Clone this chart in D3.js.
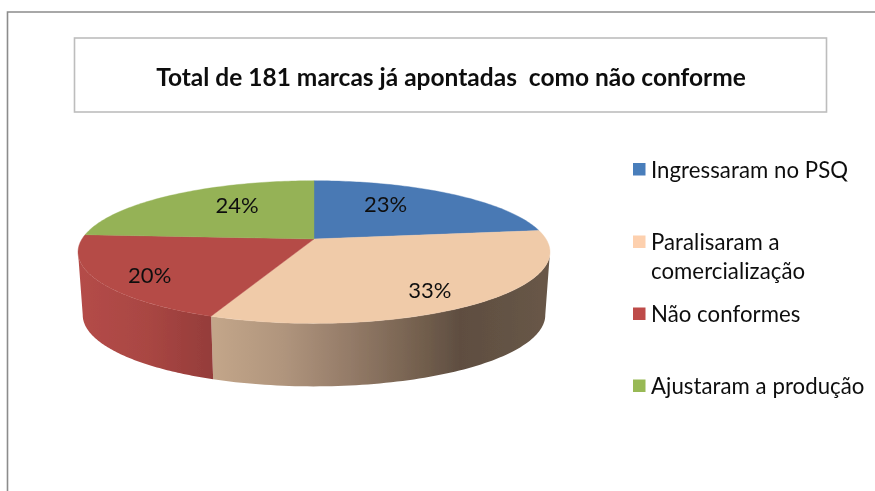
<!DOCTYPE html>
<html><head><meta charset="utf-8">
<script src="https://cdn.jsdelivr.net/npm/d3@7"></script>
<style>html,body{margin:0;padding:0;background:#fff}svg{display:block}text{font-family:Lato,"Open Sans",sans-serif;fill:#111}</style>
</head><body><svg id="c" width="875" height="491"></svg>
<script>
const categories = ["Ingressaram no PSQ","Paralisaram a|comercialização","Não conformes","Ajustaram a produção"];
const values = [23,33,20,24];
const colors = ["#4a79b4","#f0cba9","#b54b47","#95b257"];
const legendSwatch = ["#4a7ebb","#fdd0ae","#be4b48","#98b954"];
const title = "Total de 181 marcas já apontadas  como não conforme";

const svg = d3.select("#c");
const defs = svg.append("defs");
defs.append("filter").attr("id","soft").append("feGaussianBlur").attr("stdDeviation",0.45);
const g = svg.append("g").attr("filter","url(#soft)");

// frame
g.append("path").attr("d","M7.5,491V12H875").attr("fill","none").attr("stroke","#8c8c8c").attr("stroke-width",1.6);
g.append("rect").attr("x",74.5).attr("y",38).attr("width",752).attr("height",74).attr("fill","#fff").attr("stroke","#bdbdbd").attr("stroke-width",1.6);
g.append("text").attr("x",451).attr("y",86).attr("text-anchor","middle").attr("font-weight",700).attr("font-size",24.5).attr("xml:space","preserve").style("white-space","pre").text(title);

// perspective projection of the unit disc
const cx=314, rx=232, apexY=239, ka=25.2, kc=-0.183, depth=63, shrink=0.98;
function proj(theta,r=1){
  const u=r*Math.sin(theta), v=-r*Math.cos(theta), d=1+kc*v;
  return [cx+rx*u/d,(ka*v+apexY)/d];
}
function projBottom(theta){
  const [x,y]=proj(theta);
  return [cx+(x-cx)*shrink,y+depth];
}
const pie=d3.pie().sort(null).value(d=>d)(values);
const line=d3.line();
const samples=(a,b,n=80)=>d3.range(n+1).map(i=>a+(b-a)*i/n);

// side wall
const extreme=Math.acos(kc);               // rightmost rim angle
const extremeL=2*Math.PI-extreme;          // leftmost rim angle
function grad(id,x1,x2,stops){
  const gr=defs.append("linearGradient").attr("id",id).attr("gradientUnits","userSpaceOnUse")
    .attr("x1",x1).attr("x2",x2).attr("y1",0).attr("y2",0);
  stops.forEach(s=>gr.append("stop").attr("offset",s[0]).attr("stop-color",s[1]));
}
grad("wallP",216,550,[[0,"#c2a589"],[0.2,"#b0957d"],[0.4,"#947b68"],[0.6,"#75614f"],[0.73,"#5f4e41"],[1,"#685747"]]);
grad("wallR",79,217,[[0,"#b44c48"],[0.5,"#a94643"],[1,"#933c39"]]);
function wall(a,b,fill){
  const s=samples(a,b);
  const pts=s.map(t=>proj(t)).concat(s.slice().reverse().map(t=>projBottom(t)));
  g.append("path").attr("d",line(pts)+"Z").attr("fill",fill);
}
wall(extreme,pie[1].endAngle,"url(#wallP)");
wall(pie[1].endAngle,extremeL,"url(#wallR)");

// top face
pie.forEach((p,i)=>{
  const rim=samples(p.startAngle,p.endAngle).map(t=>proj(t));
  g.append("path").attr("d",line([[cx,apexY],...rim])+"Z").attr("fill",colors[i]).attr("stroke",colors[i]).attr("stroke-width",0.4);
});

// value labels, placed around each slice's centroid
const labelR=[0.62,0.66,0.62,0.62], labelNudge=[[-16,-4],[12,12],[-35,13],[14,-4]];
pie.forEach((p,i)=>{
  const [x,y]=proj((p.startAngle+p.endAngle)/2,labelR[i]);
  g.append("text").attr("x",x+labelNudge[i][0]).attr("y",y+labelNudge[i][1]+7)
   .attr("text-anchor","middle").attr("font-size",22).text(values[i]+"%");
});

// legend
const rowY=[169.5,242,314,386];
categories.forEach((c,i)=>{
  g.append("rect").attr("x",633).attr("y",rowY[i]-6.5).attr("width",12.5).attr("height",12.5).attr("fill",legendSwatch[i]);
  c.split("|").forEach((t,j)=>{
    g.append("text").attr("x",651).attr("y",rowY[i]+8+j*29).attr("font-size",22.2).attr("letter-spacing",0.05).text(t);
  });
});
</script></body></html>
